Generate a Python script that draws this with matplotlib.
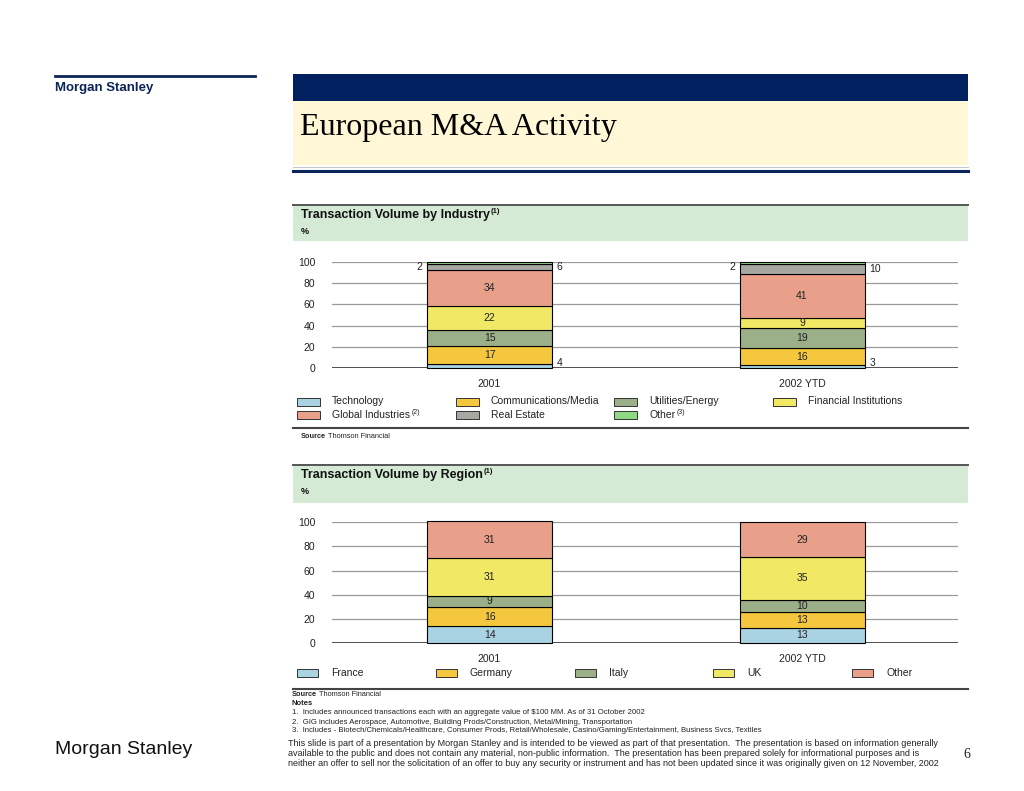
import matplotlib
matplotlib.use('Agg')
import matplotlib.pyplot as plt
from matplotlib.patches import Rectangle
import numpy as np

plt.rcParams['font.family'] = ['Liberation Sans', 'DejaVu Sans']

W, H = 1024, 791

# --- data ---
years = ['2001', '2002 YTD']

industries = ['Technology', 'Communications/Media', 'Utilities/Energy', 'Financial Institutions',
              'Global Industries', 'Real Estate', 'Other']
industry_notes = ['', '', '', '', '(2)', '', '(3)']
industry_2001 = [4, 17, 15, 22, 34, 6, 2]
industry_2002 = [3, 16, 19, 9, 41, 10, 2]

regions = ['France', 'Germany', 'Italy', 'UK', 'Other']
region_2001 = [14, 16, 9, 31, 31]
region_2002 = [13, 13, 10, 35, 29]

notes = [
    '1.  Includes announced transactions each with an aggregate value of $100 MM. As of 31 October 2002',
    '2.  GIG includes Aerospace, Automotive, Building Prods/Construction, Metal/Mining, Transportation',
    '3.  Includes - Biotech/Chemicals/Healthcare, Consumer Prods, Retail/Wholesale, Casino/Gaming/Entertainment, Business Svcs, Textiles',
]
disclaimer = [
    'This slide is part of a presentation by Morgan Stanley and is intended to be viewed as part of that presentation.  The presentation is based on information generally',
    'available to the public and does not contain any material, non-public information.  The presentation has been prepared solely for informational purposes and is',
    'neither an offer to sell nor the solicitation of an offer to buy any security or instrument and has not been updated since it was originally given on 12 November, 2002',
]

# --- colours ---
NAVY = '#0B2559'
TECH = '#A9D3E3'
COMM = '#F5C73F'
UTIL = '#9BAF88'
FIN = '#F1E865'
GLOB = '#E9A08B'
REAL = '#A7A8A2'
OTHR = '#8FD884'
industry_colors = [TECH, COMM, UTIL, FIN, GLOB, REAL, OTHR]
region_colors = [TECH, COMM, UTIL, FIN, GLOB]
# where small values are written: inside, right of bar, left of bar
industry_label_pos = ['right', 'in', 'in', 'in', 'in', 'right', 'left']

fig = plt.figure(figsize=(W / 100, H / 100), dpi=100)
fig.patch.set_facecolor('white')

bg = fig.add_axes([0, 0, 1, 1])
bg.set_xlim(0, W)
bg.set_ylim(H, 0)
bg.axis('off')


def px_axes(x0, y0, x1, y1):
    return fig.add_axes([x0 / W, 1 - y1 / H, (x1 - x0) / W, (y1 - y0) / H])


def sup(txt, s, size=5.5, dy=-3):
    # superscript just after an existing text object
    fig.canvas.draw()
    bb = txt.get_window_extent()
    x = bb.x1 + 1
    y_px = H - bb.y1
    bg.text(x, y_px + dy, s, fontsize=size, va='top', ha='left',
            fontweight=txt.get_fontweight(), color=txt.get_color())


# --- page header ---
bg.plot([55, 255], [75.5, 75.5], color=NAVY, lw=2)
bg.text(55, 88, 'Morgan Stanley', fontsize=9.5, fontweight='bold', color=NAVY, va='center')
bg.add_patch(Rectangle((293, 74), 675, 27, fc='#002060', ec='none'))
bg.add_patch(Rectangle((293, 101), 675, 64, fc='#FFF7D6', ec='none'))
bg.plot([293, 968], [167, 167], color='#C8C8C8', lw=0.8)
bg.plot([293, 968], [171, 171], color=NAVY, lw=2.2)
bg.text(300, 135, 'European M&A Activity', fontsize=23, family=['Liberation Serif', 'DejaVu Serif'],
        color='black', va='baseline')


def section_box(y0, y1, title):
    bg.add_patch(Rectangle((293, y0), 675, y1 - y0, fc='#D5EAD5', ec='none'))
    bg.plot([293, 968], [y0, y0], color='#555555', lw=1.4)
    t = bg.text(301, y0 + 10.5, title, fontsize=9, fontweight='bold', va='center', color='#111111')
    sup(t, '(1)', size=5.5, dy=-1)
    bg.text(301, y0 + 27, '%', fontsize=6.5, fontweight='bold', va='center', color='#111111')


section_box(204.5, 241, 'Transaction Volume by Industry')
section_box(464.5, 503, 'Transaction Volume by Region')


def stacked(ax, series, colors, label_pos=None):
    x = np.arange(len(years))
    ax.set_xlim(-0.504, 1.499)
    ax.set_ylim(0, 100)
    for xi, vals in zip(x, series):
        bottom = 0
        for j, v in enumerate(vals):
            ax.bar(xi, v, 0.4, bottom=bottom, color=colors[j], edgecolor='black', lw=0.8,
                   zorder=3, clip_on=False)
            pos = label_pos[j] if label_pos else 'in'
            if pos == 'in':
                ax.text(xi, bottom + v / 2, str(v), ha='center', va='center', fontsize=7.5,
                        color='#222222', zorder=4)
            elif pos == 'right' and j == 0:
                ax.text(xi + 0.215, bottom + 0.3, str(v), ha='left', va='bottom', fontsize=7.5,
                        color='#222222', clip_on=False)
            elif pos == 'right':
                ax.text(xi + 0.215, bottom + v / 2, str(v), ha='left', va='center', fontsize=7.5,
                        color='#222222', clip_on=False)
            else:
                ax.text(xi - 0.215, bottom + v, str(v), ha='right', va='top', fontsize=7.5,
                        color='#222222', clip_on=False)
            bottom += v
    ax.set_yticks(range(0, 101, 20))
    ax.set_xticks(x)
    ax.set_xticklabels(years, fontsize=7.5, color='#222222')
    ax.tick_params(axis='y', length=0, pad=12, labelsize=7.5, labelcolor='#222222')
    ax.tick_params(axis='x', length=0, pad=8)
    ax.yaxis.grid(True, color='#9A9A9A', lw=0.9)
    ax.set_axisbelow(True)
    for s in ax.spines.values():
        s.set_visible(False)
    ax.axhline(0, color='#333333', lw=1.2, zorder=2)
    ax.patch.set_alpha(0)


ax1 = px_axes(332, 261.7, 958, 368.3)
stacked(ax1, [industry_2001, industry_2002], industry_colors, industry_label_pos)

ax2 = px_axes(332, 522, 958, 643.3)
stacked(ax2, [region_2001, region_2002], region_colors)

# --- legends ---
for i, (name, color) in enumerate(zip(industries, industry_colors)):
    row, col = divmod(i, 4)
    x = 297 + col * 158.7
    y = 401.5 + row * 13.5
    bg.add_patch(Rectangle((x, y - 4), 23, 8, fc=color, ec='#333333', lw=0.7))
    t = bg.text(x + 35, y, name, fontsize=7.5, va='center', color='#222222')
    if industry_notes[i]:
        sup(t, industry_notes[i], size=5, dy=-1)

for i, (name, color) in enumerate(zip(regions, region_colors)):
    x = 297 + i * 138.8
    y = 673
    bg.add_patch(Rectangle((x, y - 4), 21, 8, fc=color, ec='#333333', lw=0.7))
    bg.text(x + 34, y, name, fontsize=7.5, va='center', color='#222222')

# --- separators and sources ---
for y in (427.5, 689):
    bg.plot([293, 968], [y, y], color='#444444', lw=1.5)

for x, y in ((301, 437), (292, 694.5)):
    bg.text(x, y, 'Source', fontsize=5.3, fontweight='bold', va='center', color='#222222')
    bg.text(x + 27, y, 'Thomson Financial', fontsize=5.3, va='center', color='#222222')

bg.text(292, 703.5, 'Notes', fontsize=5.5, fontweight='bold', va='center', color='#222222')
for i, line in enumerate(notes):
    bg.text(292, 713 + i * 9, line, fontsize=5.6, va='center', color='#222222')

for i, line in enumerate(disclaimer):
    bg.text(288, 743 + i * 10.5, line, fontsize=6.45, va='center', color='#222222')

bg.text(963, 754, '6', fontsize=10, family=['Liberation Serif', 'DejaVu Serif'], va='center', color='#222222')

# logo
bg.text(55, 749, 'Morgan Stanley', fontsize=14, va='center', color='#111111')

fig.savefig('out.png', dpi=100, facecolor='white')
